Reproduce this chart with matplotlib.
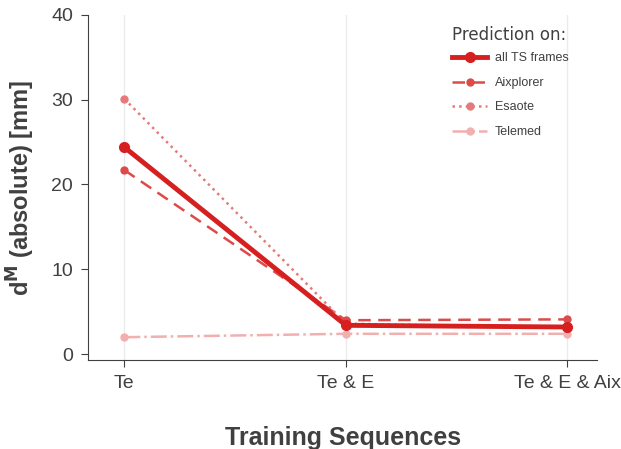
import numpy as np
import matplotlib.pyplot as plt

sequences = ["Te", "Te & E", "Te & E & Aix"]
all_ts = [24.4, 3.4, 3.2]
aixplorer = [21.7, 4.0, 4.1]
esaote = [30.1, 3.6, 3.1]
telemed = [2.0, 2.4, 2.4]

fig, ax = plt.subplots(figsize=(6.21, 4.49), dpi=100)
fig.subplots_adjust(left=0.142, right=0.962, top=0.967, bottom=0.198)

x = np.arange(len(sequences))
ax.plot(x, telemed, ls="-.", lw=1.8, color="#f0b0b0", marker="o", ms=5, label="Telemed", zorder=2)
ax.plot(x, esaote, ls=":", lw=1.8, color="#e67a7a", marker="o", ms=5, label="Esaote", zorder=3)
ax.plot(x, aixplorer, ls=(0, (5, 3)), lw=1.8, color="#de4a4a", marker="o", ms=5, label="Aixplorer", zorder=4)
ax.plot(x, all_ts, ls="-", lw=3.5, color="#d61f1f", marker="o", ms=7, label="all TS frames", zorder=5)

ax.set_xlim(-0.163, 2.135)
ax.set_ylim(-0.7, 40)
ax.set_xticks(x)
ax.set_xticklabels(sequences)
ax.set_yticks([0, 10, 20, 30, 40])
ax.grid(axis="x", color="#ebebeb", lw=1)
ax.set_axisbelow(True)
for s in ["top", "right"]:
    ax.spines[s].set_visible(False)
for s in ["left", "bottom"]:
    ax.spines[s].set_color("#404040")
ax.tick_params(labelsize=14, colors="#404040", length=5, direction="out", pad=6)
for lab in ax.get_xticklabels() + ax.get_yticklabels():
    lab.set_family("Liberation Sans")

ax.set_xlabel("Training Sequences", fontsize=18, fontweight="bold", family="Liberation Sans",
              color="#404040", labelpad=24)
ax.set_ylabel(r"d$^{\mathbf{M}}$ (absolute) [mm]", fontsize=17, fontweight="bold",
              family="Liberation Sans", color="#404040", labelpad=10)

handles, labels = ax.get_legend_handles_labels()
leg = ax.legend(handles[::-1], labels[::-1], title="Prediction on:", frameon=False,
                loc="upper right", bbox_to_anchor=(0.965, 1.0), fontsize=9,
                title_fontsize=12, labelspacing=1.0, handlelength=2.8, handletextpad=0.6)
leg._legend_box.align = "left"
leg._legend_box.sep = 6
leg.get_title().set_color("#404040")
for t in leg.get_texts():
    t.set_family("Liberation Sans")
    t.set_color("#404040")

fig.savefig("out.png", dpi=100)
